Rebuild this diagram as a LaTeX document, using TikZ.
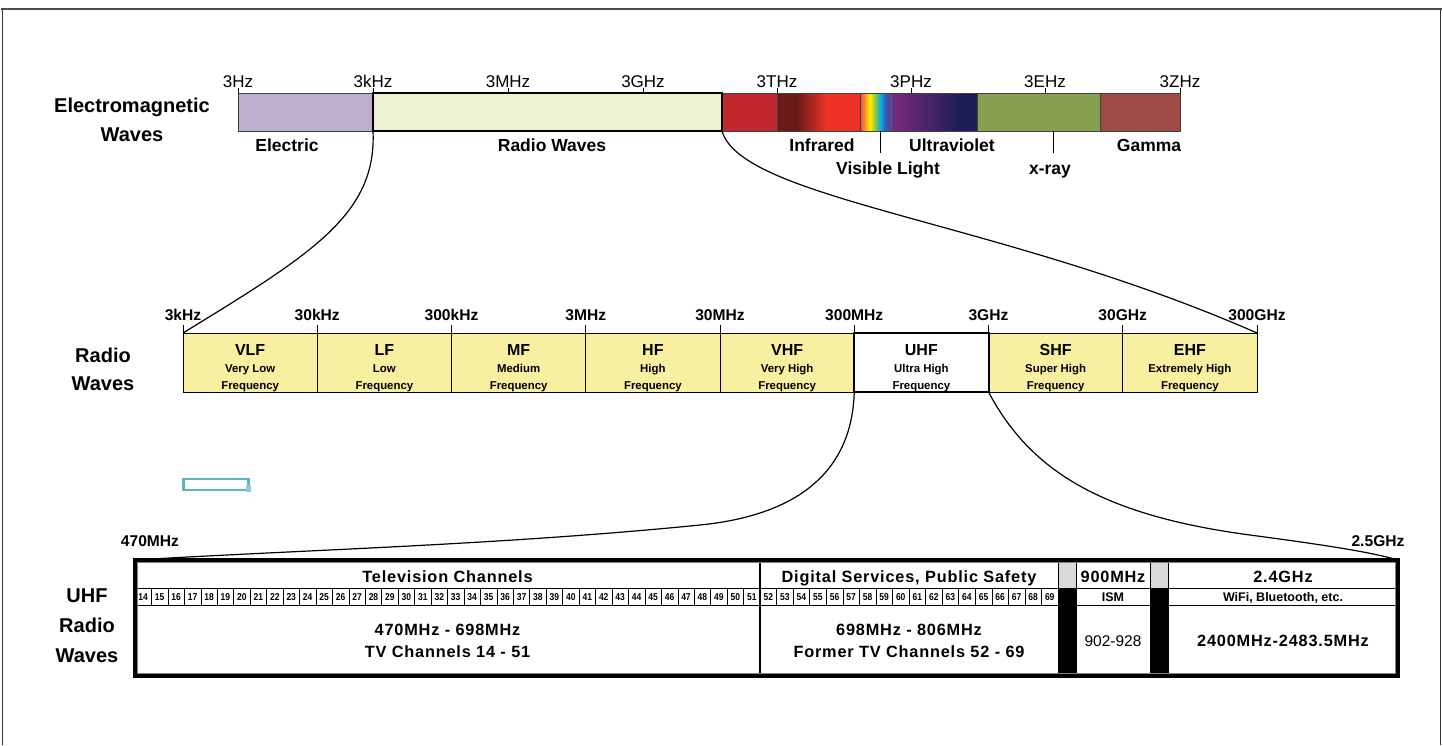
\documentclass[tikz,border=0pt]{standalone}
\usepackage{fontspec}
\setmainfont{Liberation Sans}
\newfontfamily\wide[LetterSpace=5]{Liberation Sans}
\newfontfamily\narr[FakeStretch=0.85]{Liberation Sans}
\definecolor{elecc}{HTML}{BDAECB}
\definecolor{radioc}{HTML}{EDF2D5}
\definecolor{redc}{HTML}{C1272D}
\definecolor{irdark}{HTML}{6A1B17}
\definecolor{irbright}{HTML}{EE3225}
\definecolor{v1}{HTML}{E2457A}
\definecolor{v2}{HTML}{F7941D}
\definecolor{v3}{HTML}{FFF200}
\definecolor{v4}{HTML}{8DC63F}
\definecolor{v5}{HTML}{00AEEF}
\definecolor{v6}{HTML}{3954A5}
\definecolor{v7}{HTML}{6A3E98}
\definecolor{uva}{HTML}{7B2A7E}
\definecolor{uvb}{HTML}{1E1E55}
\definecolor{xrayc}{HTML}{87A04F}
\definecolor{gammac}{HTML}{A04A45}
\definecolor{bandc}{HTML}{F8EFA0}
\definecolor{cyanc}{HTML}{5BB7BE}
\definecolor{greyc}{HTML}{D9D9D9}
\pgfdeclarehorizontalshading{irsh}{100bp}{color(0bp)=(irdark); color(25bp)=(irdark); color(37bp)=(irdark); color(55bp)=(irbright); color(75bp)=(irbright); color(100bp)=(irbright)}
\pgfdeclarehorizontalshading{rainbowsh}{100bp}{color(0bp)=(v1); color(25bp)=(v1); color(32bp)=(v2); color(40bp)=(v3); color(48bp)=(v4); color(56bp)=(v5); color(64bp)=(v6); color(75bp)=(v7); color(100bp)=(v7)}
\pgfdeclarehorizontalshading{uvsh}{100bp}{color(0bp)=(uva); color(25bp)=(uva); color(65bp)=(uvb); color(75bp)=(uvb); color(100bp)=(uvb)}
\begin{document}
\begin{tikzpicture}[x=1pt,y=-1pt,
  seg/.style={draw=black!75, line width=0.6, inner sep=0, outer sep=0, anchor=north west, minimum height=38},
  band/.style={draw=black, line width=0.7, fill=bandc, inner sep=0, outer sep=0, anchor=north west, minimum width=134.25, minimum height=59},
  tl/.style={anchor=base, inner sep=0, font=\fontsize{17}{20}\selectfont},
  lab/.style={anchor=base, inner sep=0, font=\fontsize{17.5}{20}\selectfont\bfseries},
  big/.style={anchor=base, inner sep=0, font=\fontsize{20}{24}\selectfont\bfseries},
  btl/.style={anchor=base, inner sep=0, font=\fontsize{15.6}{18}\selectfont\bfseries},
  bname/.style={anchor=base, inner sep=0, font=\fontsize{16}{18}\selectfont\bfseries},
  bsub/.style={anchor=base, inner sep=0, font=\fontsize{11.4}{13}\selectfont\bfseries},
  thead/.style={anchor=base, inner sep=0, font=\fontsize{16.3}{19}\selectfont\wide\bfseries},
  tsmall/.style={anchor=base, inner sep=0, font=\fontsize{12.5}{14}\selectfont\bfseries},
  chn/.style={anchor=base, inner sep=0, font=\fontsize{10}{11}\selectfont\narr\bfseries},
  conn/.style={draw=black, line width=1.2},
  tick/.style={draw=black, line width=0.8}
]
\useasboundingbox (0,0) rectangle (1443,745);
% frame
\draw[gray!60!black, line width=1.8] (1,9) -- (1442,9);
\draw[black!80, line width=0.8] (2,9) -- (2,745);
\draw[black!80, line width=0.8] (1440,9) -- (1440,745);

% ---------- top spectrum ----------
\node[big] (em1) at (132,112) {Electromagnetic};
\node[big] (em2) at (132,141) {Waves};

\node[seg, fill=elecc, minimum width=135] (elec) at (238,93) {};
\node[seg, fill=redc, minimum width=55] (red) at (722,93) {};
\node[seg, shade, shading=irsh, minimum width=83] (ir) at (777,93) {};
\node[seg, shade, shading=rainbowsh, minimum width=33] (vis) at (860,93) {};
\node[seg, shade, shading=uvsh, minimum width=84] (uv) at (893,93) {};
\node[seg, fill=xrayc, minimum width=123] (xr) at (977,93) {};
\node[seg, fill=gammac, minimum width=80] (gm) at (1100,93) {};
\node[seg, fill=radioc, draw=black, line width=2, minimum width=349] (radio) at (373,93) {};

\foreach \x/\t in {238/3Hz,373/3kHz,508/3MHz,643/3GHz,777/3THz,911/3PHz,1045/3EHz,1180/3ZHz}{
  \draw[tick] (\x,88) -- (\x,93);
  \node[tl] at (\x,87) {\t};
}
\node[lab] (lelec) at (287,151) {Electric};
\node[lab] (lradio) at (552,151) {Radio Waves};
\node[lab] (lir) at (822,151) {Infrared};
\node[lab] (luv) at (952,151) {Ultraviolet};
\node[lab] (lgm) at (1149,151) {Gamma};
\node[lab] (lvis) at (888,174) {Visible Light};
\node[lab] (lxr) at (1050,174) {x-ray};
\draw[tick, line width=1] (880,131) -- (880,153);
\draw[tick, line width=1] (1053,131) -- (1053,153);

% ---------- radio band ----------
\node[big] (rw1) at (103,362) {Radio};
\node[big] (rw2) at (103,390) {Waves};

\node[band] (vlf) at (183,333) {};
\node[band] (lf) at (317.25,333) {};
\node[band] (mf) at (451.5,333) {};
\node[band] (hf) at (585.75,333) {};
\node[band] (vhf) at (720,333) {};
\node[band] (shf) at (988.5,333) {};
\node[band] (ehf) at (1122.75,333) {};
\node[band, fill=white, line width=2] (uhf) at (854.25,333) {};

\foreach \x/\t in {183/3kHz,317.25/30kHz,451.5/300kHz,585.75/3MHz,720/30MHz,854.25/300MHz,988.5/3GHz,1122.75/30GHz,1257/300GHz}{
  \draw[tick] (\x,325) -- (\x,333);
  \node[btl] at (\x,320) {\t};
}
\foreach \c/\a/\b/\d in {vlf/VLF/Very Low/Frequency, lf/LF/Low/Frequency, mf/MF/Medium/Frequency, hf/HF/High/Frequency, vhf/VHF/Very High/Frequency, uhf/UHF/Ultra High/Frequency, shf/SHF/Super High/Frequency, ehf/EHF/Extremely High/Frequency}{
  \node[bname] at ([yshift=-22]\c.north) {\a};
  \node[bsub] at ([yshift=-39]\c.north) {\b};
  \node[bsub] at ([yshift=-56]\c.north) {\d};
}

% cyan box
\draw[cyanc, line width=2.6] (183.5,479) rectangle (248.5,490);
\fill[cyanc!70] (246,486) rectangle (251,491.5);

% ---------- UHF table ----------
\node[big] (u1) at (87,602) {UHF};
\node[big] (u2) at (87,632) {Radio};
\node[big] (u3) at (87,662) {Waves};
\node[btl] (l470) at (150,546) {470MHz};
\node[btl] (l25) at (1378,546) {2.5GHz};

\node[inner sep=0, outer sep=0, anchor=north west, minimum width=1263, minimum height=116] (tab) at (135,560) {};

% grey / black columns
\fill[greyc] (1058,560) rectangle (1076,588);
\fill[black] (1058,588) rectangle (1076,676);
\fill[greyc] (1150,560) rectangle (1168,588);
\fill[black] (1150,588) rectangle (1168,676);

% rows
\draw[black, line width=0.8] (135,588) -- (1058,588) (1076,588) -- (1150,588) (1168,588) -- (1398,588);
\draw[black, line width=0.8] (135,605) -- (1058,605) (1076,605) -- (1150,605) (1168,605) -- (1398,605);
\draw[black, line width=0.8] (1058,560) -- (1058,676) (1076,560) -- (1076,676) (1150,560) -- (1150,676) (1168,560) -- (1168,676);

% channel cells
\foreach \n in {14,...,51}{
  \pgfmathsetmacro{\xa}{135+(\n-14)*16.447}
  \pgfmathsetmacro{\xm}{\xa+8.22}
  \draw[black, line width=0.5] (\xa,588) -- (\xa,605);
  \node[chn] at (\xm,600.5) {\n};
}
\foreach \n in {52,...,69}{
  \pgfmathsetmacro{\xa}{760+(\n-52)*16.556}
  \pgfmathsetmacro{\xm}{\xa+8.28}
  \draw[black, line width=0.5] (\xa,588) -- (\xa,605);
  \node[chn] at (\xm,600.5) {\n};
}
\draw[black, line width=2] (760,560) -- (760,676);

% table texts
\node[thead] (tvh) at (447.5,582) {Television Channels};
\node[thead] (tv1) at (447.5,635) {470MHz - 698MHz};
\node[thead] (tv2) at (447.5,657) {TV Channels 14 - 51};
\node[thead] (dsh) at (909,582) {Digital Services, Public Safety};
\node[thead] (ds1) at (909,635) {698MHz - 806MHz};
\node[thead] (ds2) at (909,657) {Former TV Channels 52 - 69};
\node[thead] (ismh) at (1113,582) {900MHz};
\node[tsmall] (ism1) at (1113,601) {ISM};
\node[anchor=base, inner sep=0, font=\fontsize{15.5}{18}\selectfont] (ism2) at (1113,646) {902-928};
\node[thead] (wfh) at (1283,582) {2.4GHz};
\node[tsmall] (wf1) at (1283,601) {WiFi, Bluetooth, etc.};
\node[thead] (wf2) at (1283,646) {2400MHz-2483.5MHz};

% border
\draw[black, line width=3.2] (tab.north west) rectangle (tab.south east);
\draw[gray, line width=0.8] ([shift={(2.2,2.2)}]tab.north west) rectangle ([shift={(-2.2,-2.2)}]tab.south east);

% ---------- connectors ----------
\draw[conn] (radio.south west) .. controls (377,215) and (310,255) .. (vlf.north west);
\draw[conn] (radio.south east) .. controls (742,200) and (1000,220) .. (ehf.north east);
\draw[conn] (uhf.south west) .. controls (852,470) and (800,515) .. (700,525) .. controls (500,545) and (300,550) .. (tab.north west);
\draw[conn] (uhf.south east) .. controls (1030,470) and (1100,515) .. (1250,535) .. controls (1330,545.7) and (1370,552) .. (tab.north east);
\end{tikzpicture}
\end{document}
